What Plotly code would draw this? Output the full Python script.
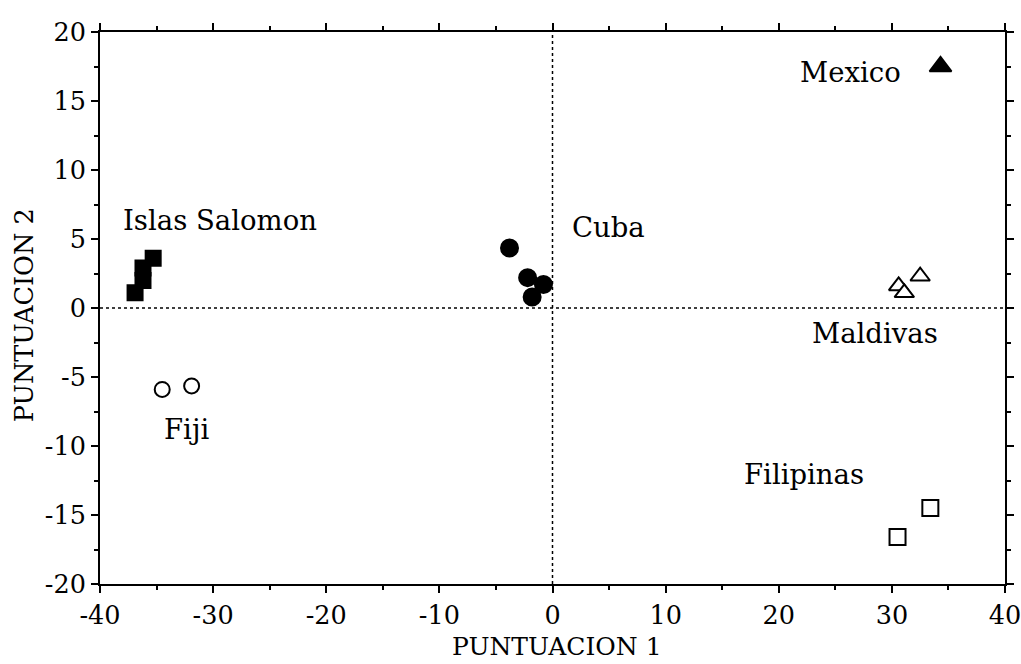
import plotly.graph_objects as go

# Data
salomon_x = [-36.9, -36.2, -36.2, -35.3]
salomon_y = [1.1, 2.0, 2.9, 3.6]
cuba_x = [-3.8, -2.2, -0.8, -1.8]
cuba_y = [4.35, 2.2, 1.7, 0.8]
fiji_x = [-34.5, -31.9]
fiji_y = [-5.9, -5.65]
mexico_x = [34.3]
mexico_y = [17.5]
maldivas_x = [32.5, 30.6, 31.1]
maldivas_y = [2.3, 1.6, 1.1]
filipinas_x = [33.4, 30.5]
filipinas_y = [-14.5, -16.6]

labels = ["Mexico", "Islas Salomon", "Cuba", "Maldivas", "Fiji", "Filipinas"]
label_x = [21.7, -38.1, 1.55, 22.8, -34.5, 16.75]
label_y = [17.1, 6.4, 5.9, -1.8, -8.8, -12.0]

x_tickvals = [-40, -30, -20, -10, 0, 10, 20, 30, 40]
x_ticktext = ["-40", "-30", "-20", "-10", "0", "10", "20", "30", "40"]
y_tickvals = [-20, -15, -10, -5, 0, 5, 10, 15, 20]
y_ticktext = ["-20", "-15", "-10", "-5", "0", "5", "10", "15", "20"]

x_title = "PUNTUACION 1"
y_title = "PUNTUACION 2"

FONT = "DejaVu Serif"

fig = go.Figure()

def add(x, y, symbol, size, filled):
    fig.add_trace(go.Scatter(
        x=x, y=y, mode="markers",
        marker=dict(symbol=symbol, size=size,
                    color="black" if filled else "white",
                    line=dict(color="black", width=2)),
        showlegend=False, hoverinfo="skip"))

add(salomon_x, salomon_y, "square", 15, True)
add(cuba_x, cuba_y, "circle", 17, True)
add(fiji_x, fiji_y, "circle", 15, False)
add(mexico_x, mexico_y, "triangle-up", 19, True)
add(maldivas_x, maldivas_y, "triangle-up", 17, False)
add(filipinas_x, filipinas_y, "square", 16, False)

for t, x, y in zip(labels, label_x, label_y):
    fig.add_annotation(x=x, y=y, text=t, showarrow=False, xanchor="left",
                       yanchor="middle", font=dict(family=FONT, size=27.5, color="black"))

fig.add_annotation(x=0.505, y=-0.113, xref="paper", yref="paper", text=x_title,
                   showarrow=False, xanchor="center", yanchor="middle", borderpad=0,
                   font=dict(family=FONT, size=25, color="black"))
fig.add_annotation(x=-0.084, y=0.487, xref="paper", yref="paper", text=y_title,
                   showarrow=False, xanchor="center", yanchor="middle", textangle=-90,
                   font=dict(family=FONT, size=25.5, color="black"))

fig.add_shape(type="line", x0=0, x1=0, y0=-20, y1=20, xref="x", yref="y",
              line=dict(color="black", width=1.5, dash="dot"))
fig.add_shape(type="line", x0=-40, x1=40, y0=0, y1=0, xref="x", yref="y",
              line=dict(color="black", width=1.5, dash="dot"))

axis_common = dict(showline=True, linecolor="black", linewidth=2, mirror="ticks",
                   ticks="outside", ticklen=7, tickwidth=2, tickcolor="black",
                   showgrid=False, zeroline=False, automargin=False,
                   ticklabeloverflow="allow",
                   tickfont=dict(family=FONT, size=25.5, color="black"))

fig.update_xaxes(range=[-40, 40], tickvals=x_tickvals, ticktext=x_ticktext,
                 minor=dict(dtick=5, tick0=0, ticks="outside", ticklen=4, tickcolor="black", tickwidth=1.5),
                 **axis_common)
fig.update_yaxes(range=[-20, 20], tickvals=y_tickvals, ticktext=y_ticktext,
                 minor=dict(dtick=2.5, tick0=0, ticks="outside", ticklen=4, tickcolor="black", tickwidth=1.5),
                 **axis_common)

fig.update_layout(width=1021, height=664, margin=dict(l=100, r=16, t=32, b=80),
                  plot_bgcolor="white", paper_bgcolor="white")

fig.write_html("out.html")
